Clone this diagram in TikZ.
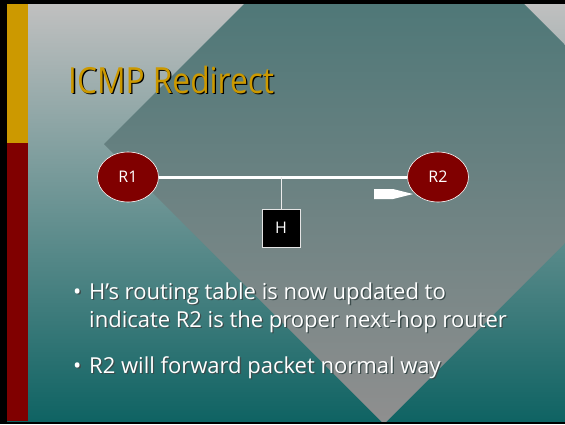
\documentclass[tikz,border=0pt]{standalone}
\usepackage{fontspec}
\setmainfont{Open Sans}
\newfontfamily\titlefont{Open Sans}[FakeStretch=0.88]
\usepackage{xcolor}
\usetikzlibrary{shapes.geometric, positioning}

\definecolor{slidegold}{HTML}{CC9900}
\definecolor{slidered}{HTML}{800000}
\definecolor{slidetop}{HTML}{C0C0C0}
\definecolor{slidemid}{HTML}{8C9E9E}
\definecolor{slidebot}{HTML}{0F6363}
\definecolor{diamtop}{HTML}{3A7070}
\definecolor{diammid}{HTML}{7E8888}
\definecolor{diambot}{HTML}{8F8F8F}
\definecolor{shadowgray}{HTML}{3C4C4C}

% text with a drop shadow
\newcommand{\shd}[2][shadowgray]{\leavevmode\rlap{\kern1.3pt\raisebox{-1.3pt}{\textcolor{#1}{#2}}}#2}

\tikzset{
  router/.style={ellipse, draw=white, line width=0.6pt, fill=slidered,
    minimum width=61pt, minimum height=50pt, inner sep=0pt,
    text=white, font=\fontsize{16}{18}\selectfont},
  hostbox/.style={rectangle, draw=white!80!gray, line width=0.6pt, fill=black,
    minimum size=38pt, inner sep=0pt,
    text=white, font=\fontsize{16}{18}\selectfont},
  link/.style={draw=white, line width=3pt},
  drop/.style={draw=white!85!gray, line width=0.8pt}
}

\begin{document}
\begin{tikzpicture}[x=1pt, y=-1pt]
  \useasboundingbox (0,0) rectangle (565,424);

  % frame and background
  \fill[black] (0,0) rectangle (565,424);
  \shade[top color=slidetop, middle color=slidemid, bottom color=slidebot]
    (7,4) rectangle (565,421);

  % big diamond
  \begin{scope}
    \clip (28,4) rectangle (565,421);
    \shade[top color=diamtop, middle color=diammid, bottom color=diambot]
      (104,144) -- (384,-136) -- (664,144) -- (384,424) -- cycle;
  \end{scope}

  % left bar
  \fill[slidegold] (7,4) rectangle (28,143);
  \fill[slidered] (7,143) rectangle (28,421);

  % title
  \node[anchor=base west, inner sep=0pt, text=slidegold,
    font=\titlefont\fontsize{36}{40}\selectfont] (title) at (68,93) {\shd[black]{ICMP Redirect}};

  % routers and host
  \node[router] (r1) at (128,177) {R1};
  \node[router] (r2) at (438,177) {R2};
  \node[hostbox] (h) at (281,228) {H};

  \draw[link] (r1) -- (r2);
  \coordinate (tap) at (h |- r1);
  \draw[drop] (tap) -- (h);

  % packet
  \fill[white] (374,189) -- (393,189) -- (413,194) -- (393,199) -- (374,199) -- cycle;

  % bullets
  \node[anchor=base west, inner sep=0pt, text=white,
    font=\fontsize{22}{28}\selectfont] (body) at (73,299) {%
    \begin{tabular}[t]{@{}l@{}}
      \makebox[16pt][l]{\shd{•}}\shd{H’s routing table is now updated to}\\
      \hspace*{16pt}\shd{indicate R2 is the proper next-hop router}\\[18pt]
      \makebox[16pt][l]{\shd{•}}\shd{R2 will forward packet normal way}
    \end{tabular}};
\end{tikzpicture}
\end{document}
